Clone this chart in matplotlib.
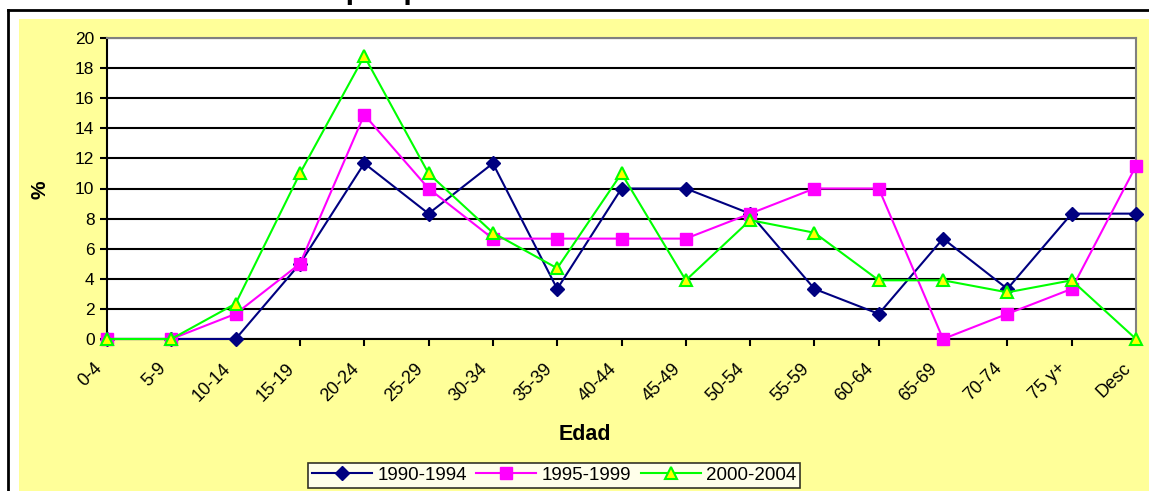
import matplotlib
matplotlib.use("Agg")
import matplotlib.pyplot as plt
import matplotlib.transforms as mtransforms
from matplotlib.patches import Rectangle
from matplotlib.lines import Line2D

# datos
edades = ['0-4', '5-9', '10-14', '15-19', '20-24', '25-29', '30-34', '35-39', '40-44',
          '45-49', '50-54', '55-59', '60-64', '65-69', '70-74', '75 y+', 'Desc']
p1990 = [0, 0, 0, 5.0, 11.67, 8.33, 11.67, 3.33, 10.0, 10.0, 8.33, 3.33, 1.67, 6.67, 3.33, 8.33, 8.33]
p1995 = [0, 0, 1.67, 5.0, 14.9, 10.0, 6.67, 6.67, 6.67, 6.67, 8.33, 10.0, 10.0, 0, 1.67, 3.33, 11.5]
p2000 = [0, 0, 2.35, 11.0, 18.8, 11.0, 7.06, 4.7, 11.0, 3.9, 7.9, 7.06, 3.9, 3.9, 3.1, 3.9, 0]
series = ['1990-1994', '1995-1999', '2000-2004']
yticks = list(range(0, 21, 2))

plt.rcParams['font.family'] = ['Liberation Sans', 'DejaVu Sans']

W, H = 1149, 491
fig = plt.figure(figsize=(W / 100, H / 100), dpi=100)
fig.patch.set_facecolor('white')

# fondo amarillo y borde
fig.patches.append(Rectangle((19 / W, 0), 1, 1 - 19 / H, transform=fig.transFigure,
                             facecolor='#FFFF99', edgecolor='none', zorder=-5))
fig.lines.append(Line2D([8 / W, 8 / W], [0, 1 - 10 / H], transform=fig.transFigure,
                        color='black', lw=2, zorder=-4))
fig.lines.append(Line2D([8 / W, 1], [1 - 10 / H, 1 - 10 / H], transform=fig.transFigure,
                        color='black', lw=2, zorder=-4))

# titulo (cortado arriba, como en el original)
fig.text(20 / W, 1 + 2 / H, 'Distribución de casos por período', fontsize=22,
         fontweight='bold', ha='left', va='baseline')

ax = fig.add_axes([107 / W, 1 - 339 / H, (1136 - 107) / W, (339 - 38) / H])
ax.set_facecolor('white')
x = list(range(len(edades)))

ax.plot(x, p1990, color='#000080', lw=1.5, marker='D', markersize=7.5,
        markerfacecolor='#000080', markeredgecolor='#000080', label=series[0], zorder=3, clip_on=False)
ax.plot(x, p1995, color='#FF00FF', lw=1.5, marker='s', markersize=8,
        markerfacecolor='#FF00FF', markeredgecolor='#FF00FF', label=series[1], zorder=3, clip_on=False)
ax.plot(x, p2000, color='#00FF00', lw=1.5, marker='^', markersize=9,
        markerfacecolor='#FFFF00', markeredgecolor='#00FF00', markeredgewidth=1.5,
        label=series[2], zorder=4, clip_on=False)

ax.set_xlim(0, len(edades) - 1)
ax.set_ylim(0, 20)
ax.set_yticks(yticks)
ax.set_yticklabels([str(v) for v in yticks], fontsize=12.5)
ax.set_xticks(x)
ax.set_xticklabels(edades, rotation=45, ha='right', rotation_mode='anchor', fontsize=13)
ax.tick_params(axis='x', length=5, width=1.5, pad=10)
ax.tick_params(axis='y', length=5, width=1.5, pad=4)
# etiquetas un poco a la izquierda de la marca, como en Excel
shift = mtransforms.ScaledTranslation(-14 / 100, 0, fig.dpi_scale_trans)
for lab in ax.get_xticklabels():
    lab.set_transform(lab.get_transform() + shift)
ax.yaxis.grid(True, color='black', lw=1.5)
ax.set_axisbelow(True)

ax.spines['left'].set_color('black')
ax.spines['left'].set_linewidth(1.5)
ax.spines['bottom'].set_color('black')
ax.spines['bottom'].set_linewidth(1.5)
ax.spines['top'].set_color('#808080')
ax.spines['right'].set_color('#808080')
ax.spines['top'].set_linewidth(1.5)
ax.spines['right'].set_linewidth(1.5)

fig.text(40 / W, 1 - 190 / H, '%', fontsize=15, fontweight='bold', rotation=90,
         ha='center', va='center')
fig.text(585 / W, 1 - 435 / H, 'Edad', fontsize=15.5, fontweight='bold',
         ha='center', va='center')

leg = fig.legend(loc='upper left', bbox_to_anchor=(308 / W, 1 - 463 / H), ncol=3,
                 fontsize=13.5, frameon=True, fancybox=False, handlelength=3.2,
                 borderpad=0.2, columnspacing=0.5, handletextpad=0.3, borderaxespad=0)
leg.get_frame().set_edgecolor('black')
leg.get_frame().set_linewidth(1.2)
leg.get_frame().set_facecolor('white')

fig.savefig('out.png', dpi=100, facecolor=fig.get_facecolor())
